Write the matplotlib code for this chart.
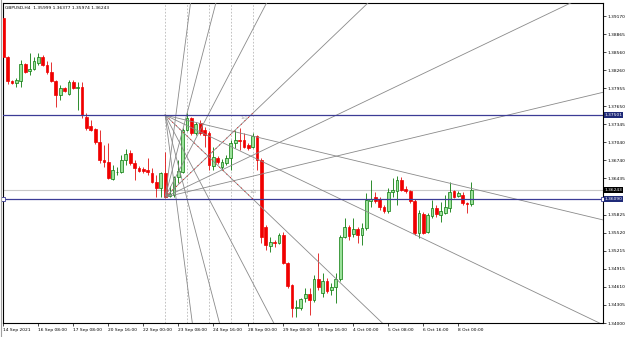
import numpy as np
import matplotlib.pyplot as plt
from matplotlib.transforms import blended_transform_factory

# --- Data: GBPUSD H4 candles (bar index 0..107) ---
opens = [1.3914, 1.3848, 1.3808, 1.3804, 1.3808, 1.3836, 1.3824, 1.3828, 1.3838, 1.3848,
         1.3834, 1.3823, 1.3808, 1.3784, 1.3796, 1.3786, 1.3806, 1.3796, 1.3797, 1.3747,
         1.3732, 1.3727, 1.3705, 1.3674, 1.3671, 1.3642, 1.3654, 1.3654, 1.3674, 1.3686,
         1.3669, 1.3661, 1.3659, 1.3658, 1.3653, 1.3637, 1.3627, 1.3653, 1.3614, 1.3616,
         1.3646, 1.3654, 1.3725, 1.3745, 1.3720, 1.3737, 1.3725, 1.3720, 1.3664, 1.3678,
         1.3663, 1.3669, 1.3678, 1.3703, 1.3708, 1.3708, 1.3700, 1.3696, 1.3715, 1.3674,
         1.3562, 1.3530, 1.3536, 1.3535, 1.3548, 1.3501, 1.3464, 1.3425, 1.3425, 1.3442,
         1.3449, 1.3439, 1.3474, 1.3451, 1.3471, 1.3456, 1.3461, 1.3474, 1.3545, 1.3562,
         1.3550, 1.3558, 1.3548, 1.3560, 1.3605, 1.3612, 1.3609, 1.3595, 1.3589, 1.3621,
         1.3622, 1.3641, 1.3626, 1.3622, 1.3605, 1.3552, 1.3584, 1.3553, 1.3580, 1.3594,
         1.3582, 1.3585, 1.3594, 1.3622, 1.3614, 1.3616, 1.3602, 1.35999]
highs = [1.3915, 1.3850, 1.3809, 1.3813, 1.3843, 1.3838, 1.3855, 1.3848, 1.3855, 1.3851,
         1.3841, 1.3840, 1.3809, 1.3801, 1.3797, 1.3809, 1.3809, 1.3806, 1.3806, 1.3754,
         1.3742, 1.3728, 1.3725, 1.3700, 1.3703, 1.3666, 1.3663, 1.3683, 1.3693, 1.3691,
         1.3674, 1.3664, 1.3663, 1.3678, 1.3661, 1.3649, 1.3654, 1.3688, 1.3631, 1.3648,
         1.3674, 1.3728, 1.3754, 1.3747, 1.3739, 1.3742, 1.3730, 1.3723, 1.3696, 1.3681,
         1.3676, 1.3683, 1.3708, 1.3725, 1.3728, 1.3720, 1.3703, 1.3720, 1.3717, 1.3678,
         1.3565, 1.3545, 1.3540, 1.3552, 1.3553, 1.3503, 1.3466, 1.3439, 1.3442, 1.3459,
         1.3459, 1.3481, 1.3518, 1.3484, 1.3476, 1.3467, 1.3484, 1.3548, 1.3577, 1.3565,
         1.3577, 1.3562, 1.3568, 1.3619, 1.3641, 1.3621, 1.3612, 1.3599, 1.3627, 1.3644,
         1.3648, 1.3646, 1.3631, 1.3624, 1.3609, 1.3590, 1.3587, 1.3585, 1.3607, 1.3599,
         1.3604, 1.3616, 1.3637, 1.3624, 1.3622, 1.3621, 1.3604, 1.36377]
lows = [1.3846, 1.3802, 1.3802, 1.3797, 1.3797, 1.3821, 1.3818, 1.3826, 1.3834, 1.3833,
        1.3819, 1.3806, 1.3764, 1.3776, 1.3789, 1.3784, 1.3794, 1.3759, 1.3745, 1.3725,
        1.3723, 1.3701, 1.3669, 1.3663, 1.3642, 1.3641, 1.3649, 1.3653, 1.3666, 1.3666,
        1.3641, 1.3654, 1.3653, 1.3649, 1.3636, 1.3612, 1.3612, 1.3611, 1.3612, 1.3612,
        1.3636, 1.3653, 1.3723, 1.3717, 1.3717, 1.3717, 1.3696, 1.3658, 1.3658, 1.3668,
        1.3658, 1.3666, 1.3658, 1.3695, 1.3691, 1.3695, 1.3691, 1.3695, 1.3658, 1.3535,
        1.3523, 1.3520, 1.3528, 1.3533, 1.3499, 1.3459, 1.3410, 1.3410, 1.3422, 1.3435,
        1.3413, 1.3435, 1.3456, 1.3444, 1.3451, 1.3447, 1.3434, 1.3471, 1.3543, 1.3540,
        1.3545, 1.3535, 1.3531, 1.3557, 1.3595, 1.3602, 1.3590, 1.3585, 1.3585, 1.3612,
        1.3599, 1.3622, 1.3619, 1.3602, 1.3548, 1.3543, 1.3550, 1.3552, 1.3577, 1.3579,
        1.3570, 1.3584, 1.3587, 1.3611, 1.3612, 1.3599, 1.3585, 1.35974]
closes = [1.3848, 1.3808, 1.3804, 1.3809, 1.3836, 1.3823, 1.3828, 1.3841, 1.3848, 1.3834,
          1.3823, 1.3808, 1.3784, 1.3796, 1.3791, 1.3806, 1.3796, 1.3797, 1.3750, 1.3728,
          1.3725, 1.3705, 1.3674, 1.3671, 1.3644, 1.3658, 1.3655, 1.3674, 1.3685, 1.3669,
          1.3661, 1.3656, 1.3656, 1.3654, 1.3637, 1.3627, 1.3653, 1.3612, 1.3617, 1.3646,
          1.3656, 1.3725, 1.3745, 1.3720, 1.3735, 1.3720, 1.3717, 1.3666, 1.3680, 1.3671,
          1.3671, 1.3678, 1.3703, 1.3708, 1.3706, 1.3696, 1.3695, 1.3715, 1.3674, 1.3545,
          1.3531, 1.3536, 1.3535, 1.3548, 1.3501, 1.3462, 1.3425, 1.3427, 1.3440, 1.3449,
          1.3439, 1.3474, 1.3461, 1.3471, 1.3454, 1.3461, 1.3474, 1.3545, 1.3562, 1.3547,
          1.3558, 1.3548, 1.3560, 1.3607, 1.3609, 1.3605, 1.3595, 1.3589, 1.3621, 1.3624,
          1.3641, 1.3624, 1.3622, 1.3605, 1.3552, 1.3585, 1.3552, 1.3582, 1.3594, 1.3584,
          1.3589, 1.3595, 1.3621, 1.3612, 1.3619, 1.3602, 1.3600, 1.36243]

# x-axis labels (one every 8 bars)
date_ticks = [0, 8, 16, 24, 32, 40, 48, 56, 64, 72, 80, 88, 96, 104]
date_labels = ["14 Sep 2021", "16 Sep 08:00", "17 Sep 08:00", "20 Sep 16:00", "22 Sep 00:00",
               "23 Sep 08:00", "24 Sep 16:00", "28 Sep 00:00", "29 Sep 08:00", "30 Sep 16:00",
               "4 Oct 00:00", "5 Oct 08:00", "6 Oct 16:00", "8 Oct 00:00"]
price_ticks = [1.39170, 1.38865, 1.38560, 1.38260, 1.37955, 1.37650, 1.37345, 1.37040,
               1.36740, 1.36435, 1.35825, 1.35520, 1.35215, 1.34915, 1.34610, 1.34305, 1.34000]

# Drawing objects
hlines_blue = [1.37501, 1.36090]
bid_price = 1.36243
vline_bars = [37, 42, 47, 52, 57]
# Gann fans: (start bar, start price) -> (end bar, end price) for the 1x1 line
fans = [((37, 1.37501), (57, 1.36090)),
        ((37, 1.36120), (57, 1.37531))]
fan_ratios = [8, 4, 2, 1, 1 / 2, 1 / 4]

# --- Figure ---
fig = plt.figure(figsize=(6.25, 3.37), dpi=100)
ax = fig.add_axes([3 / 625, 14 / 337, 600 / 625, 320 / 337])
x_min, x_max = -0.07, 137.07
ax.set_xlim(x_min, x_max)
ax.set_ylim(1.34000, 1.39389)

fs = 3.2
line_blue = '#3c3c96'
box_blue = '#1f2a78'

# vertical dashed lines
for b in vline_bars:
    ax.axvline(b, color='#b8b8b8', lw=0.6, ls=(0, (2, 2)), zorder=1)

# bid line
ax.axhline(bid_price, color='#c8c8c8', lw=0.8, zorder=1)

# candles
x = np.arange(len(opens))
o = np.array(opens); h = np.array(highs); l = np.array(lows); c = np.array(closes)
up = c >= o
body_lo = np.minimum(o, c)
body_h = np.maximum(np.abs(c - o), 0.00004)
ax.vlines(x[up], l[up], h[up], color='#0a7a0a', lw=0.6, zorder=2)
ax.vlines(x[~up], l[~up], h[~up], color='#e01010', lw=0.6, zorder=2)
ax.bar(x[up], body_h[up], bottom=body_lo[up], width=0.62, color='#9be29b',
       edgecolor='#0a7a0a', linewidth=0.5, zorder=3)
ax.bar(x[~up], body_h[~up], bottom=body_lo[~up], width=0.62, color='#f00000',
       edgecolor='#f00000', linewidth=0.5, zorder=3)

# Gann fans
for (b1, p1), (b2, p2) in fans:
    slope = (p2 - p1) / (b2 - b1)
    for r in fan_ratios:
        ax.plot([b1, x_max], [p1, p1 + slope * r * (x_max - b1)],
                color='#8a8a8a', lw=0.6, zorder=4)
    ax.plot([b1, b2], [p1, p2], color='red', lw=0.6, ls=(0, (1, 5)), zorder=4)
ax.text(55.0, 1.3745, "1x1", fontsize=2.8, color='#a0a0a0', ha='center', va='center', zorder=5)
ax.text(57.2, 1.3621, "1x1", fontsize=2.8, color='#a0a0a0', ha='center', va='center', zorder=5)

# blue horizontal lines
for p in hlines_blue:
    ax.axhline(p, color=line_blue, lw=0.9, zorder=4)
ax.plot([x_min, x_max], [hlines_blue[1]] * 2, 's', ms=2.2, mfc='white', mec=line_blue,
        mew=0.6, ls='none', clip_on=False, zorder=6)

# axes styling
for s in ax.spines.values():
    s.set_color('black')
    s.set_linewidth(0.8)
ax.yaxis.tick_right()
ax.set_yticks(price_ticks)
ax.set_yticklabels([f"{p:.5f}" for p in price_ticks])
ax.set_xticks(date_ticks)
ax.set_xticklabels(date_labels)
ax.tick_params(axis='both', labelsize=fs, length=2, width=0.5, pad=1.5, colors='black')
for lbl in ax.get_xticklabels():
    lbl.set_ha('left')

# price label boxes on the right axis
tr = blended_transform_factory(ax.transAxes, ax.transData)
for p, fc in [(hlines_blue[0], box_blue), (hlines_blue[1], box_blue), (bid_price, 'black')]:
    ax.text(1.0025, p, f"{p:.5f}", transform=tr, fontsize=fs, color='white', ha='left',
            va='center', clip_on=False, zorder=7,
            bbox=dict(boxstyle='square,pad=0.2', fc=fc, ec='none'))

# header
ax.text(0.004, 0.99, "GBPUSD,H4  1.35999 1.36377 1.35974 1.36243", transform=ax.transAxes,
        fontsize=fs, va='top', ha='left', color='black', zorder=7)

# outer window edge on the left
fig.add_artist(plt.Line2D([0.7 / 625, 0.7 / 625], [0, 1], color='#a0a0a0', lw=0.8))

fig.savefig('out.png', dpi=100)
